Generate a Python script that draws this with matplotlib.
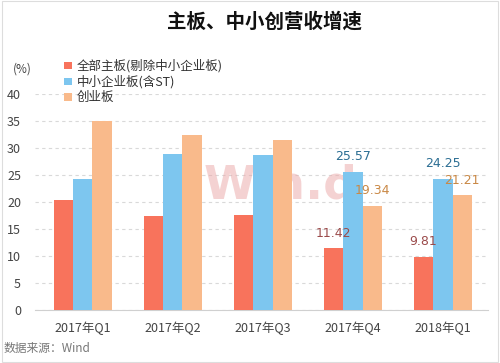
import numpy as np
import matplotlib.pyplot as plt
from matplotlib.patches import Rectangle

plt.rcParams['font.family'] = ['Noto Sans CJK SC', 'DejaVu Sans']

quarters = ['2017年Q1', '2017年Q2', '2017年Q3', '2017年Q4', '2018年Q1']
series_names = ['全部主板(剔除中小企业板)', '中小企业板(含ST)', '创业板']
main_board = [20.4, 17.4, 17.6, 11.42, 9.81]
sme_board = [24.3, 28.9, 28.7, 25.57, 24.25]
gem_board = [35.0, 32.4, 31.5, 19.34, 21.21]
colors = ['#F8735C', '#7DC6EF', '#F9BA8B']
label_colors = ['#9B4B4B', '#2C6E93', '#C98845']

fig = plt.figure(figsize=(5, 3.63), dpi=100)
fig.patches.append(Rectangle((0.004, 0.004), 0.992, 0.992, transform=fig.transFigure,
                             fill=False, edgecolor='#DDDDDD', linewidth=0.8))
ax = fig.add_axes([0.07, 0.146, 0.906, 0.595])

x = np.arange(len(quarters))
w = 0.215
all_vals = [main_board, sme_board, gem_board]

# watermark (behind bars)
ax.text(2.2, 23.0, 'Win.d', fontsize=34, color='#EBA7A7', alpha=0.5, ha='center', va='center',
        family='DejaVu Sans', fontweight='bold', zorder=2)

for i, vals in enumerate(all_vals):
    ax.bar(x + (i - 1) * w, vals, width=w, color=colors[i], label=series_names[i], zorder=3)

# data labels only for last two quarters
for j in [3, 4]:
    for i, vals in enumerate(all_vals):
        ax.text(x[j] + (i - 1) * w, vals[j] + 1.6, f'{vals[j]:.2f}', ha='center', va='bottom',
                fontsize=9, color=label_colors[i], family='DejaVu Sans', zorder=4)

ax.set_ylim(0, 40)
ax.set_xlim(-0.53, 4.5)
ax.set_yticks(range(0, 41, 5))
ax.yaxis.grid(True, linestyle=(0, (3, 3)), color='#D9D9D9', linewidth=0.8, zorder=0)
ax.set_axisbelow(True)
for s in ['top', 'right', 'left']:
    ax.spines[s].set_visible(False)
ax.spines['bottom'].set_color('#D0D0D0')
ax.tick_params(axis='both', length=0, labelsize=9, colors='#444444')
ax.tick_params(axis='y', pad=10)
ax.tick_params(axis='x', pad=8)
ax.set_xticks(x)
ax.set_xticklabels(quarters)

fig.text(0.025, 0.80, '(%)', fontsize=8.5, color='#444444')
leg = ax.legend(loc='upper left', bbox_to_anchor=(0.065, 1.16), frameon=False, fontsize=9,
                handlelength=0.6, handleheight=0.6, handletextpad=0.4, labelspacing=0.2,
                borderaxespad=0, borderpad=0, labelcolor='#333333')

fig.text(0.53, 0.94, '主板、中小创营收增速', ha='center', va='center', fontsize=14,
         fontweight='bold', color='#111111')
fig.text(0.008, 0.03, '数据来源：Wind', fontsize=8.5, color='#777777')

fig.savefig('out.png', dpi=100)
